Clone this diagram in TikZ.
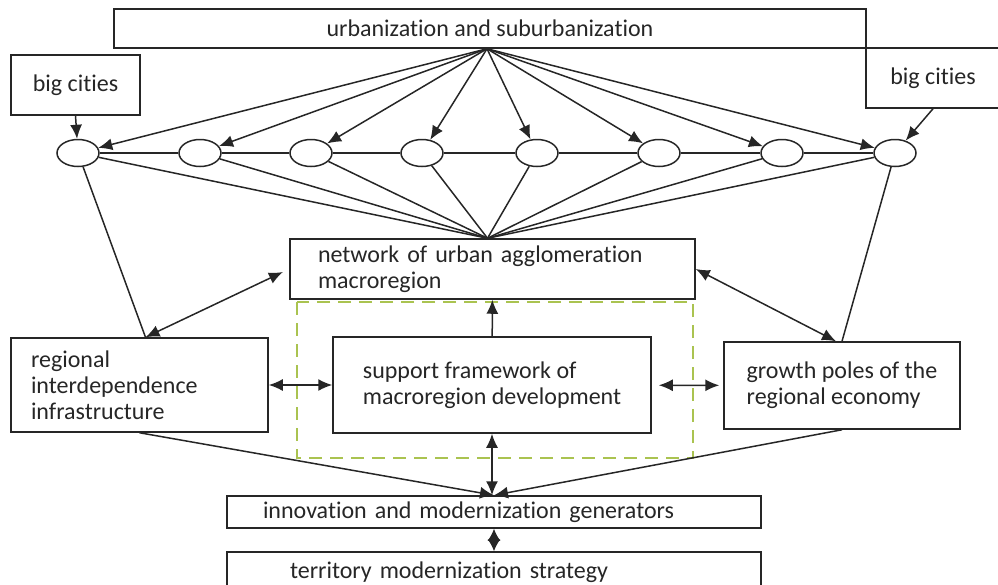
\documentclass[tikz,border=0pt]{standalone}
\usepackage{fontspec}
\setmainfont{Carlito}[Ligatures=NoCommon]
\usetikzlibrary{shapes.geometric,arrows.meta}
\definecolor{dashgreen}{RGB}{170,195,80}

\begin{document}
\begin{tikzpicture}[x=1pt, y=-1pt, line width=1.5pt, color=black!85,
    >={Latex[length=14pt,width=12pt]},
    box/.style={draw, rectangle, align=left, inner ysep=2pt, font=\fontsize{24}{26}\selectfont},
    city/.style={draw, ellipse, minimum width=42pt, minimum height=27pt, inner sep=0pt}]
    \useasboundingbox (0,0) rectangle (998,584);
    \draw[dashgreen, line width=1.3pt, dash pattern=on 13pt off 8pt] (297,302) rectangle (693,458);

    \node[box, align=center, minimum width=752pt, minimum height=39pt] (urb) at (490,28.5) {urbanization and suburbanization};
    \node[box, minimum width=129pt, minimum height=60pt] (bcl) at (75.5,85) {big cities};
    \node[box, minimum width=134pt, minimum height=60pt] (bcr) at (933,78) {big cities};

    \node[city] (c1) at (78,153) {};
    \node[city] (c2) at (200,153) {};
    \node[city] (c3) at (311,153) {};
    \node[city] (c4) at (422,153) {};
    \node[city] (c5) at (537,153) {};
    \node[city] (c6) at (659,153) {};
    \node[city] (c7) at (782,153) {};
    \node[city] (c8) at (895,153) {};

    \node[box, text width=349pt, inner xsep=28pt, minimum height=60pt] (net) at (492.5,269) {network of urban agglomeration\\macroregion};
    \node[box, text width=217pt, inner xsep=20pt, minimum height=94pt] (reg) at (139.5,385) {regional\\interdependence\\infrastructure};
    \node[box, minimum width=318pt, minimum height=96pt] (sup) at (492,385) {support framework of\\macroregion development};
    \node[box, minimum width=236pt, minimum height=87pt] (grow) at (842,385.5) {growth poles of the\\regional economy};
    \node[box, text width=462pt, inner xsep=36pt, minimum height=32pt] (inno) at (494,512) {innovation and modernization generators};
    \node[box, text width=408pt, inner xsep=63pt, minimum height=40pt] (terr) at (494,572) {territory modernization strategy};

    \coordinate (top) at ([xshift=-3pt]urb.south);
    \coordinate (mid) at ([xshift=-5pt]net.north);

    \draw[->] (top) -- (c1);
    \draw[->] (top) -- (c2);
    \draw[->] (top) -- (c3);
    \draw[->] (top) -- (c4);
    \draw[->] (top) -- (c5);
    \draw[->] (top) -- (c6);
    \draw[->] (top) -- (c7);
    \draw[->] (top) -- (c8);
    \draw[->] (bcl.south) -- (c1);
    \draw[->] (bcr.south) -- (c8);

    \draw (c1) -- (c2) -- (c3) -- (c4) -- (c5) -- (c6) -- (c7) -- (c8);
    \draw (c1) -- (mid);
    \draw (c2) -- (mid);
    \draw (c3) -- (mid);
    \draw (c4) -- (mid);
    \draw (c5) -- (mid);
    \draw (c6) -- (mid);
    \draw (c7) -- (mid);
    \draw (c8) -- (mid);

    \draw (c1) -- ([xshift=6pt]reg.north);
    \draw (c8) -- (grow.north);
    \draw[<->, shorten >=7pt] ([xshift=6pt]reg.north) -- (net.west);
    \draw[<->] (net.east) -- ([xshift=-6pt]grow.north);
    \draw[->] (sup) -- (net);
    \draw[<->] (reg) -- (sup);
    \draw[<->, shorten <=7pt, shorten >=4pt] (sup) -- (grow);
    \draw[->] (reg.south) -- (inno.north);
    \draw[->] (grow.south) -- (inno.north);
    \draw[<->] (sup.south) -- (sup.south |- inno.north);
    \draw[{Latex[length=12pt,width=13pt]}-{Latex[length=12pt,width=13pt]}] (inno) -- (terr);
\end{tikzpicture}
\end{document}
